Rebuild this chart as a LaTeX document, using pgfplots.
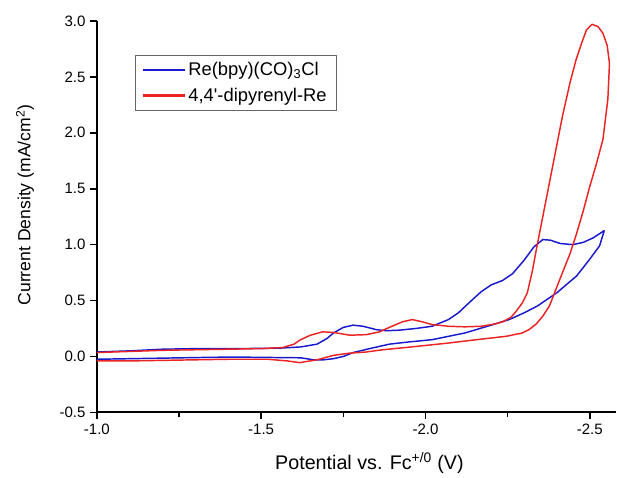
\documentclass[border=0pt]{standalone}
\usepackage{pgfplots}
\pgfplotsset{compat=1.18}
\usepackage{fontspec}
\setmainfont{Liberation Sans}
\definecolor{cvblue}{RGB}{25,25,205}
\definecolor{cvred}{RGB}{235,35,35}
\begin{document}
\begin{tikzpicture}
\begin{axis}[
  scale only axis,
  width=390pt, height=294pt,
  x dir=reverse,
  xmin=-2.58, xmax=-1.0,
  ymin=-0.5, ymax=3.0,
  axis x line=bottom, axis y line=left,
  axis line style={-, line width=1.4pt},
  xtick={-2.5,-2.0,-1.5,-1.0},
  minor xtick={-2.25,-1.75,-1.25},
  ytick={-0.5,0,0.5,1,1.5,2,2.5,3},
  tick align=outside,
  xtick align=outside, ytick align=outside,
  major tick length=5pt, minor tick length=3.5pt,
  tick style={line width=1.2pt, black},
  /pgf/number format/assume math mode=true,
  /pgf/number format/fixed, /pgf/number format/fixed zerofill,
  /pgf/number format/precision=1,
  ticklabel style={font=\fontsize{11.3}{13}\selectfont},
  xlabel={Potential vs. Fc\textsuperscript{+/0} (V)},
  ylabel={Current Density (mA/cm\textsuperscript{2})},
  xlabel style={font=\fontsize{14.8}{17}\selectfont, at={(axis description cs:0.525,0)}, anchor=center, yshift=-38pt},
  ylabel style={font=\fontsize{13.2}{15}\selectfont, at={(axis description cs:0,0.53)}, anchor=center, yshift=54pt},
  legend style={at={(0.073,0.913)}, anchor=north west, draw=black!60,
    font=\fontsize{13.8}{16.5}\selectfont, row sep=4pt, inner xsep=5pt, inner ysep=3pt},
  legend cell align=left,
  legend image code/.code={\draw[#1] (0pt,0pt) -- (31.5pt,0pt);},
]
\addlegendimage{draw=cvblue, line width=1.6pt}
\addlegendentry{Re(bpy)(CO)\textsubscript{3}Cl}
\addlegendimage{draw=cvred, line width=1.6pt}
\addlegendentry{4,4\textquotesingle-dipyrenyl-Re}
\addplot[forget plot, color=cvblue, line width=1.1pt, line join=round] coordinates {
(-1.00,0.04) (-1.10,0.05) (-1.20,0.065) (-1.30,0.07) (-1.40,0.07) (-1.50,0.072)
(-1.56,0.075) (-1.62,0.085) (-1.67,0.11) (-1.70,0.16) (-1.72,0.21) (-1.75,0.26)
(-1.78,0.28) (-1.81,0.27) (-1.85,0.24) (-1.88,0.23) (-1.92,0.235) (-1.97,0.25)
(-2.02,0.27) (-2.07,0.33) (-2.10,0.39) (-2.14,0.50) (-2.17,0.58) (-2.20,0.64)
(-2.235,0.68) (-2.265,0.74) (-2.30,0.86) (-2.33,0.98) (-2.357,1.045) (-2.38,1.04)
(-2.41,1.01) (-2.448,1.00) (-2.48,1.02) (-2.51,1.06) (-2.544,1.125)
(-2.53,0.99) (-2.50,0.87) (-2.46,0.72) (-2.40,0.57) (-2.34,0.45) (-2.30,0.39)
(-2.255,0.33) (-2.20,0.28) (-2.12,0.21) (-2.07,0.18) (-2.02,0.15) (-1.95,0.13)
(-1.89,0.11) (-1.83,0.07) (-1.78,0.035) (-1.75,0.0) (-1.72,-0.02) (-1.69,-0.03)
(-1.66,-0.03) (-1.62,-0.012) (-1.50,-0.008) (-1.41,-0.005) (-1.30,-0.01)
(-1.20,-0.015) (-1.10,-0.02) (-1.00,-0.025)
};
\addplot[forget plot, color=cvred, line width=1.1pt, line join=round] coordinates {
(-1.00,0.035) (-1.10,0.045) (-1.20,0.055) (-1.30,0.06) (-1.40,0.065) (-1.50,0.07)
(-1.566,0.08) (-1.60,0.11) (-1.62,0.15) (-1.65,0.19) (-1.687,0.22) (-1.72,0.215)
(-1.77,0.19) (-1.82,0.195) (-1.86,0.22) (-1.89,0.26) (-1.93,0.31) (-1.96,0.33)
(-1.99,0.31) (-2.02,0.285) (-2.07,0.27) (-2.12,0.265) (-2.17,0.27) (-2.21,0.29)
(-2.235,0.31) (-2.26,0.35) (-2.275,0.40) (-2.295,0.48) (-2.31,0.57) (-2.325,0.76)
(-2.337,0.95) (-2.357,1.25) (-2.377,1.55) (-2.397,1.85) (-2.417,2.15) (-2.44,2.45)
(-2.458,2.65) (-2.475,2.80) (-2.49,2.92) (-2.507,2.97) (-2.525,2.95) (-2.54,2.89)
(-2.553,2.78) (-2.56,2.62)
(-2.555,2.30) (-2.54,1.94) (-2.52,1.72) (-2.50,1.52) (-2.48,1.30) (-2.46,1.10)
(-2.44,0.92) (-2.417,0.75) (-2.397,0.60) (-2.377,0.45) (-2.357,0.36) (-2.337,0.29)
(-2.315,0.24) (-2.295,0.21) (-2.245,0.18) (-2.17,0.155) (-2.07,0.12) (-1.94,0.08)
(-1.87,0.06) (-1.82,0.04) (-1.77,0.03) (-1.72,0.01) (-1.67,-0.03) (-1.617,-0.055)
(-1.58,-0.04) (-1.52,-0.025) (-1.40,-0.025) (-1.30,-0.03) (-1.20,-0.035)
(-1.10,-0.04) (-1.00,-0.04)
};
\end{axis}
\path (current axis.south west) ++(-72.75pt,-46.5pt);
\path (current axis.north east) ++(0pt,15.75pt);
\end{tikzpicture}
\end{document}
